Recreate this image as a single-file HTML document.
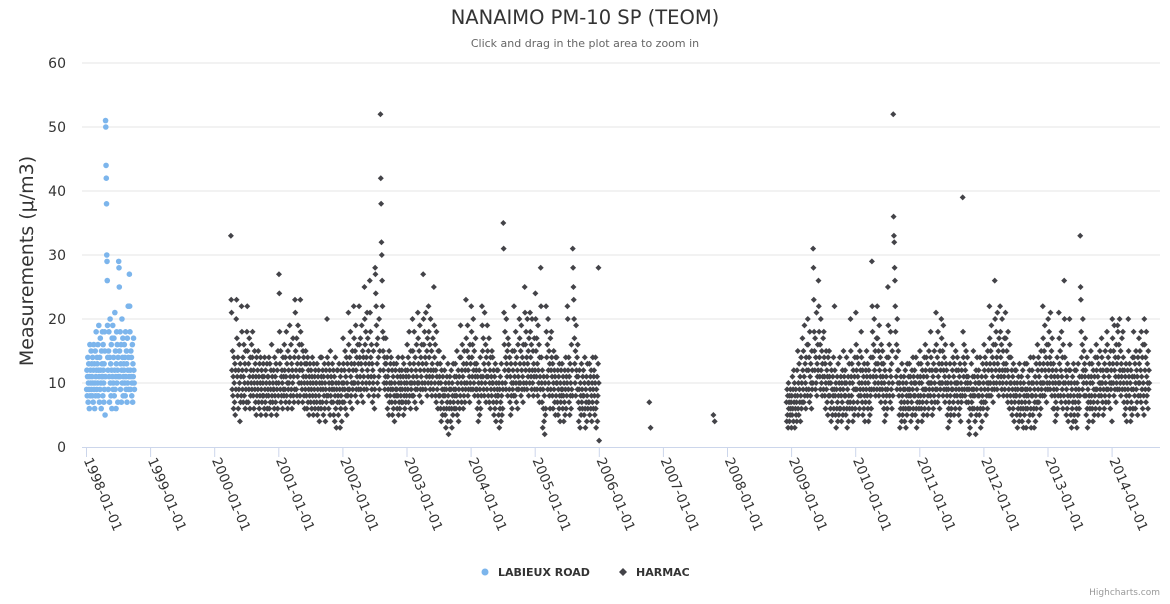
<!DOCTYPE html>
<html><head><meta charset="utf-8"><style>
body{margin:0;background:#fff;font-family:"DejaVu Sans","Liberation Sans",sans-serif}
svg text{font-family:"DejaVu Sans","Liberation Sans",sans-serif}
</style></head><body>
<svg id="c" width="1170" height="600" xmlns="http://www.w3.org/2000/svg">
<text x="585" y="24" text-anchor="middle" font-size="19.5" fill="#333">NANAIMO PM-10 SP (TEOM)</text>
<text x="585" y="47" text-anchor="middle" font-size="11" fill="#666">Click and drag in the plot area to zoom in</text>
<text transform="translate(33,261) rotate(-90)" text-anchor="middle" font-size="19" fill="#333">Measurements (μ/m3)</text>
<g id="grid"></g><g id="xax"></g><g id="pts"></g>
<g>
<g><circle cx="485" cy="572" r="3.5" fill="#7cb5ec"/><text x="498" y="576" font-size="11" font-weight="bold" fill="#333">LABIEUX ROAD</text></g>
<g><path d="M623 568 L627 572 L623 576 L619 572Z" fill="#434348"/><text x="636" y="576" font-size="11" font-weight="bold" fill="#333">HARMAC</text></g>
</g>
<text x="1160" y="595" text-anchor="end" font-size="9" fill="#999">Highcharts.com</text>
</svg>
<script>
const yTicks=[0,10,20,30,40,50,60];
const xTickYears=[1998,1999,2000,2001,2002,2003,2004,2005,2006,2007,2008,2009,2010,2011,2012,2013,2014];
const labieuxStart=[1998,1];
const labieuxMonths=[
"9 12 8 11 14 7 10 13 9 6 11 16 8 12 10 15 9 13",
"11 8 14 10 7 12 16 9 13 6 10 15 8 11 18 12 9 14",
"13 10 16 8 12 19 11 7 14 9 17 12 10 6 15 11 13 18",
"11 8 16 12 10 7 13 9 18 15 5 11 51 50 44 42 38 30 29 26 19 14",
"12 9 15 18 11 7 14 20 10 13 8 16 12 6 17 11 19 9",
"10 14 17 8 12 21 9 15 11 6 13 18 10 16 12 7 14 11",
"29 28 25 15 11 18 9 13 16 7 12 20 10 14 17 8 11 13",
"12 16 10 14 8 18 11 9 15 13 7 17 10 12 22 14 9 11",
"27 22 18 12 9 15 11 14 8 10 16 7 13 11 17 12 10 9"];
const harmacStart1=[2000,4];
const harmac1=[
"33 23 21 12 9 15 8 11 6 14 10 7 13 5 12 9",
"20 23 17 11 8 14 6 12 9 16 10 4 13 7 11 8",
"22 18 12 9 14 7 11 16 8 10 13 6 15 9 12 7",
"18 22 15 10 7 13 9 17 11 6 14 8 12 10 16 9",
"14 18 11 8 12 6 10 15 9 13 7 11 5 14 8 10",
"12 9 15 7 11 6 13 8 10 14 5 9 12 7 11 8",
"10 13 8 11 6 14 9 7 12 5 10 8 13 6 11 9",
"11 8 14 6 10 13 7 9 12 5 16 8 11 7 10 9",
"12 9 6 14 8 11 7 13 10 5 9 12 6 15 8 10",
"27 24 18 13 9 15 7 11 8 12 10 6 14 9 11 8",
"16 12 9 14 7 11 18 8 13 10 6 15 9 12 10 7",
"19 14 11 8 16 9 13 6 12 10 17 8 11 7 14 9",
"23 21 15 12 9 17 8 13 11 19 7 14 10 16 12 8",
"23 18 13 10 16 9 12 7 15 11 14 8 10 6 13 9",
"15 11 8 13 6 10 14 7 12 9 5 11 8 13 10 7",
"12 9 6 11 14 8 10 5 13 7 9 11 6 12 8 10",
"10 7 13 5 9 11 6 12 8 4 10 7 14 9 6 11",
"14 10 7 12 9 5 11 8 13 6 10 4 9 12 7 8",
"20 14 11 8 13 6 10 9 12 5 15 8 11 7 10 9",
"13 10 7 12 5 9 11 4 8 14 6 10 3 9 12 7",
"12 8 5 10 13 7 9 3 11 6 8 12 4 10 7 9",
"17 13 10 7 12 9 15 6 11 8 14 5 10 13 8 9",
"21 16 12 9 14 7 18 11 8 13 10 6 15 9 12 10",
"22 17 13 10 15 8 19 12 9 14 11 7 16 10 13 9",
"22 16 14 11 17 9 13 8 19 12 10 15 7 14 11 9",
"25 20 16 13 18 10 14 9 21 12 17 11 15 8 13 10",
"26 21 18 14 11 16 9 13 7 12 10 15 8 11 6 9",
"28 27 24 22 19 16 13 10 17 8 14 11 20 9 15 12",
"52 42 38 32 30 26 22 18 15 12 17 10 14 9 13 11",
"17 13 10 8 14 6 11 9 12 5 15 7 10 8 13 9",
"14 10 7 12 5 9 11 6 13 8 4 10 7 12 9 8",
"13 9 6 11 8 14 5 10 7 12 6 9 11 8 10 7",
"12 9 14 7 11 5 13 8 10 6 9 12 7 11 8 10",
"16 12 9 14 7 11 18 8 13 10 6 15 9 12 10 8",
"20 15 11 8 13 18 10 7 14 9 12 6 16 11 9 10",
"21 17 13 10 15 8 19 12 9 14 11 7 16 10 13 9",
"27 20 16 12 18 10 14 9 21 13 11 15 8 17 12 10",
"22 18 14 11 16 9 20 12 10 15 8 13 11 17 9 12",
"25 19 14 10 16 8 12 7 18 11 9 13 6 15 10 8",
"15 11 8 13 6 10 4 12 7 9 5 11 8 14 6 9",
"12 8 5 10 3 9 6 11 7 4 13 8 2 10 6 9",
"11 7 4 9 12 6 3 10 8 5 13 7 9 6 11 8",
"13 9 6 11 8 15 5 10 7 12 4 9 11 6 14 8",
"19 14 10 7 12 16 9 11 6 13 8 15 10 7 12 9",
"23 17 13 10 15 19 8 12 9 14 11 7 16 10 13 9",
"22 18 14 11 16 9 20 12 10 15 8 13 11 17 9 12",
"13 9 6 11 8 4 10 7 12 5 9 14 6 11 8 10",
"22 19 15 11 17 9 13 8 21 12 10 16 7 14 11 9",
"19 15 11 8 13 17 7 10 12 6 14 9 11 8 15 10",
"14 10 7 12 5 9 11 6 13 8 4 10 7 12 9 8",
"12 8 5 10 3 9 6 11 7 4 13 8 5 10 6 9",
"35 31 21 16 12 18 10 14 9 20 13 11 15 8 17 12",
"16 12 9 14 7 11 5 13 8 10 6 15 9 12 10 8",
"22 15 11 8 13 18 10 7 14 9 12 6 16 11 9 10",
"20 17 13 10 15 8 19 12 9 14 11 7 16 10 13 9",
"25 21 16 12 18 10 14 9 20 13 11 15 8 17 12 10",
"21 18 14 11 16 9 20 12 10 15 8 13 11 17 9 12",
"24 20 15 11 17 9 13 8 19 12 10 16 7 14 11 9",
"28 22 14 10 7 12 3 9 6 11 4 8 2 10 5 6",
"22 18 14 11 16 9 20 12 10 15 8 13 6 17 9 12",
"18 14 11 8 13 6 10 15 9 12 7 11 5 14 8 10",
"14 10 7 12 5 9 11 6 13 8 4 10 7 12 9 8",
"13 9 6 11 8 4 10 7 12 5 9 14 6 11 8 10",
"22 20 12 9 14 7 11 5 13 8 10 6 16 9 12 8",
"31 28 25 23 20 17 13 10 15 8 19 12 11 14 9 16",
"11 7 4 9 12 6 3 10 8 5 13 7 9 6 11 8",
"12 8 5 10 14 6 3 9 7 11 4 8 13 6 10 7",
"10 7 13 5 9 11 6 12 8 4 10 7 14 9 6 11",
"12 8 5 10 14 6 3 9 7 11 4 8 13 28 10 1"];
const harmacIsoDates=[2006.78,2006.80,2007.78,2007.80];
const harmacIsoVals=[7,3,5,4];
const harmacStart2=[2008,12];
const harmac2=[
"7 4 9 5 8 3 10 6 7 4 8 5 9 6 7 3",
"8 5 11 6 9 4 12 7 10 3 8 6 9 5 7 4",
"12 8 15 6 10 5 13 9 7 11 4 8 14 6 10 7",
"17 12 9 15 7 11 19 8 13 10 6 14 9 12 16 8",
"20 16 12 9 14 7 18 11 8 13 10 6 15 9 12 10",
"31 28 23 18 15 12 17 9 14 10 21 8 13 11 16 12",
"26 22 18 14 11 16 9 20 12 10 15 8 13 11 17 9",
"18 14 11 8 13 6 10 15 9 12 7 11 5 14 8 10",
"15 11 8 13 6 10 4 12 7 9 5 11 8 14 6 9",
"22 12 8 5 10 3 9 6 11 7 4 13 8 5 10 6",
"14 9 6 11 8 4 10 7 12 5 9 15 6 11 8 10",
"12 8 5 10 14 6 3 9 7 11 4 8 13 6 10 7",
"20 15 11 8 13 6 10 4 12 7 9 5 11 14 6 9",
"21 16 12 9 14 7 11 5 13 8 10 6 15 9 12 8",
"18 14 10 7 12 5 9 11 6 13 8 4 10 7 12 9",
"15 11 8 13 6 10 4 12 7 9 5 11 8 14 6 9",
"29 22 18 14 11 16 9 20 12 10 15 8 13 11 17 9",
"22 17 13 10 15 8 19 12 9 14 11 7 16 10 13 9",
"15 11 8 13 6 10 4 12 7 9 5 11 8 14 6 9",
"25 19 14 10 16 8 12 7 18 11 9 13 6 15 10 8",
"52 36 33 32 28 26 22 18 14 11 16 9 20 12 10 15",
"12 8 5 10 3 9 6 11 7 4 13 8 5 10 6 9",
"11 7 4 9 12 6 3 10 8 5 13 7 9 6 11 8",
"13 9 6 11 8 4 10 7 12 5 9 14 6 11 8 10",
"12 8 5 10 14 6 3 9 7 11 4 8 13 6 10 7",
"15 11 8 13 6 10 4 12 7 9 5 11 8 14 6 9",
"16 12 9 14 7 11 5 13 8 10 6 15 9 12 10 8",
"18 14 10 7 12 5 9 11 6 13 8 15 10 7 12 9",
"21 16 12 9 14 7 18 11 8 13 10 6 15 9 12 10",
"20 17 13 10 15 8 19 12 9 14 11 7 16 10 13 9",
"12 8 5 10 3 9 6 11 7 4 13 8 5 10 6 9",
"16 12 9 14 7 11 5 13 8 10 6 15 9 12 10 8",
"14 10 7 12 5 9 11 6 13 8 4 10 7 12 9 8",
"39 18 14 11 16 9 13 8 12 10 15 7 11 9 14 10",
"11 7 4 9 2 6 3 10 8 5 13 7 9 6 11 8",
"15 9 6 11 8 4 10 2 12 5 9 14 6 11 8 10",
"12 8 5 10 14 6 3 9 7 11 4 8 13 6 10 7",
"16 12 9 14 7 11 5 13 8 10 6 15 9 12 10 8",
"22 17 13 10 15 8 19 12 9 14 11 7 16 10 13 9",
"26 20 16 12 18 10 14 9 21 13 11 15 8 17 12 10",
"22 18 14 11 16 9 20 12 10 15 8 13 11 17 9 12",
"21 17 13 10 15 8 12 7 18 11 9 14 6 16 10 8",
"14 10 7 12 5 9 11 6 13 8 4 10 7 12 9 8",
"12 8 5 10 3 9 6 11 7 4 13 8 5 10 6 9",
"11 7 4 9 12 6 3 10 8 5 13 7 9 6 3 8",
"13 9 6 11 8 4 10 7 12 5 9 14 6 3 8 10",
"12 8 5 10 14 6 3 9 7 11 4 8 13 6 10 7",
"16 12 9 14 7 11 5 13 8 10 6 15 9 12 10 8",
"22 17 13 10 15 8 19 12 9 14 11 7 16 10 13 9",
"20 16 12 18 10 14 9 21 13 11 15 8 17 12 10 6",
"13 9 6 11 8 4 10 7 12 5 9 14 6 11 8 10",
"21 17 13 10 15 8 12 7 18 11 9 14 6 16 10 8",
"26 20 14 10 7 12 5 9 11 6 13 8 4 10 7 12",
"20 16 12 8 5 10 3 9 6 11 7 4 13 8 5 10",
"12 7 4 9 12 6 3 10 8 5 13 7 9 6 11 8",
"33 25 23 18 14 11 16 9 20 12 10 15 8 13 11 17",
"12 8 5 10 14 6 3 9 7 11 4 8 13 6 10 7",
"15 11 8 13 6 10 4 12 7 9 5 11 8 14 6 9",
"16 12 9 14 7 11 5 13 8 10 6 15 9 12 10 8",
"17 14 10 7 12 5 9 11 6 13 8 15 10 7 12 9",
"18 16 12 9 14 7 11 8 13 10 6 15 9 12 10 4",
"20 17 13 10 15 8 19 12 9 14 11 7 16 10 13 9",
"19 18 14 11 16 9 20 12 10 15 8 13 11 17 9 12",
"18 14 10 7 12 5 9 11 6 13 8 4 10 7 12 9",
"20 15 11 8 13 6 10 4 12 7 9 5 11 14 6 9",
"18 14 11 8 13 6 10 15 9 12 7 11 5 14 8 10",
"17 13 10 15 8 12 7 18 11 9 14 6 16 10 8 5",
"20 16 12 9 14 7 18 11 8 13 10 6 15 9 12 10"];

const NS='http://www.w3.org/2000/svg';
const L=82,R=1160,T=63,B=447;
function xs(t){return 86.5+(t-1998)*64.1;}
function ys(v){return B-(v/60)*(B-T);}
function mk(tag,attrs,parent){const e=document.createElementNS(NS,tag);for(const k in attrs)e.setAttribute(k,attrs[k]);parent.appendChild(e);return e;}
const grid=document.getElementById('grid'),xax=document.getElementById('xax'),pts=document.getElementById('pts');
yTicks.forEach(v=>{
  if(v>0){const g=mk('line',{x1:L,x2:R,y1:ys(v),y2:ys(v),stroke:'#e6e6e6'},grid);
  
  }
  const t=mk('text',{x:66,y:ys(v)+5,'text-anchor':'end','font-size':14,fill:'#333'},grid);t.textContent=v;
  
  
});
const ax=mk('line',{x1:L,x2:R,y1:B+0.5,y2:B+0.5,stroke:'#ccd6eb'},xax);


xTickYears.forEach(y=>{
  const x=xs(y);
  mk('line',{x1:x,x2:x,y1:B,y2:B+10,stroke:'#ccd6eb'},xax);
  const t=mk('text',{transform:`translate(${x-3},${B+13}) rotate(67)`,'font-size':13.5,fill:'#333'},xax);
  t.textContent=y+'-01-01';
  
  
});
function plotMonths(start,months,kind){
  months.forEach((s,mi)=>{
    const vals=s.trim().split(/\s+/).map(Number);
    const m0=start[1]-1+mi;
    vals.forEach((v,i)=>{
      const t=start[0]+(m0+(i+0.5)/vals.length)/12;
      drawPt(t,v,kind);
    });
  });
}
function drawPt(t,v,kind){
  const x=xs(t),y=ys(v);let e;
  if(kind==='l'){e=mk('circle',{cx:x,cy:y,r:2.8,fill:'#7cb5ec'},pts);
    }
  else{e=mk('path',{d:`M${x} ${y-3}L${x+3} ${y}L${x} ${y+3}L${x-3} ${y}Z`,fill:'#434348'},pts);
    }
  
}
plotMonths(labieuxStart,labieuxMonths,'l');
plotMonths(harmacStart1,harmac1,'h');
harmacIsoDates.forEach((t,i)=>drawPt(t,harmacIsoVals[i],'h'));
plotMonths(harmacStart2,harmac2,'h');
</script>
</body></html>
